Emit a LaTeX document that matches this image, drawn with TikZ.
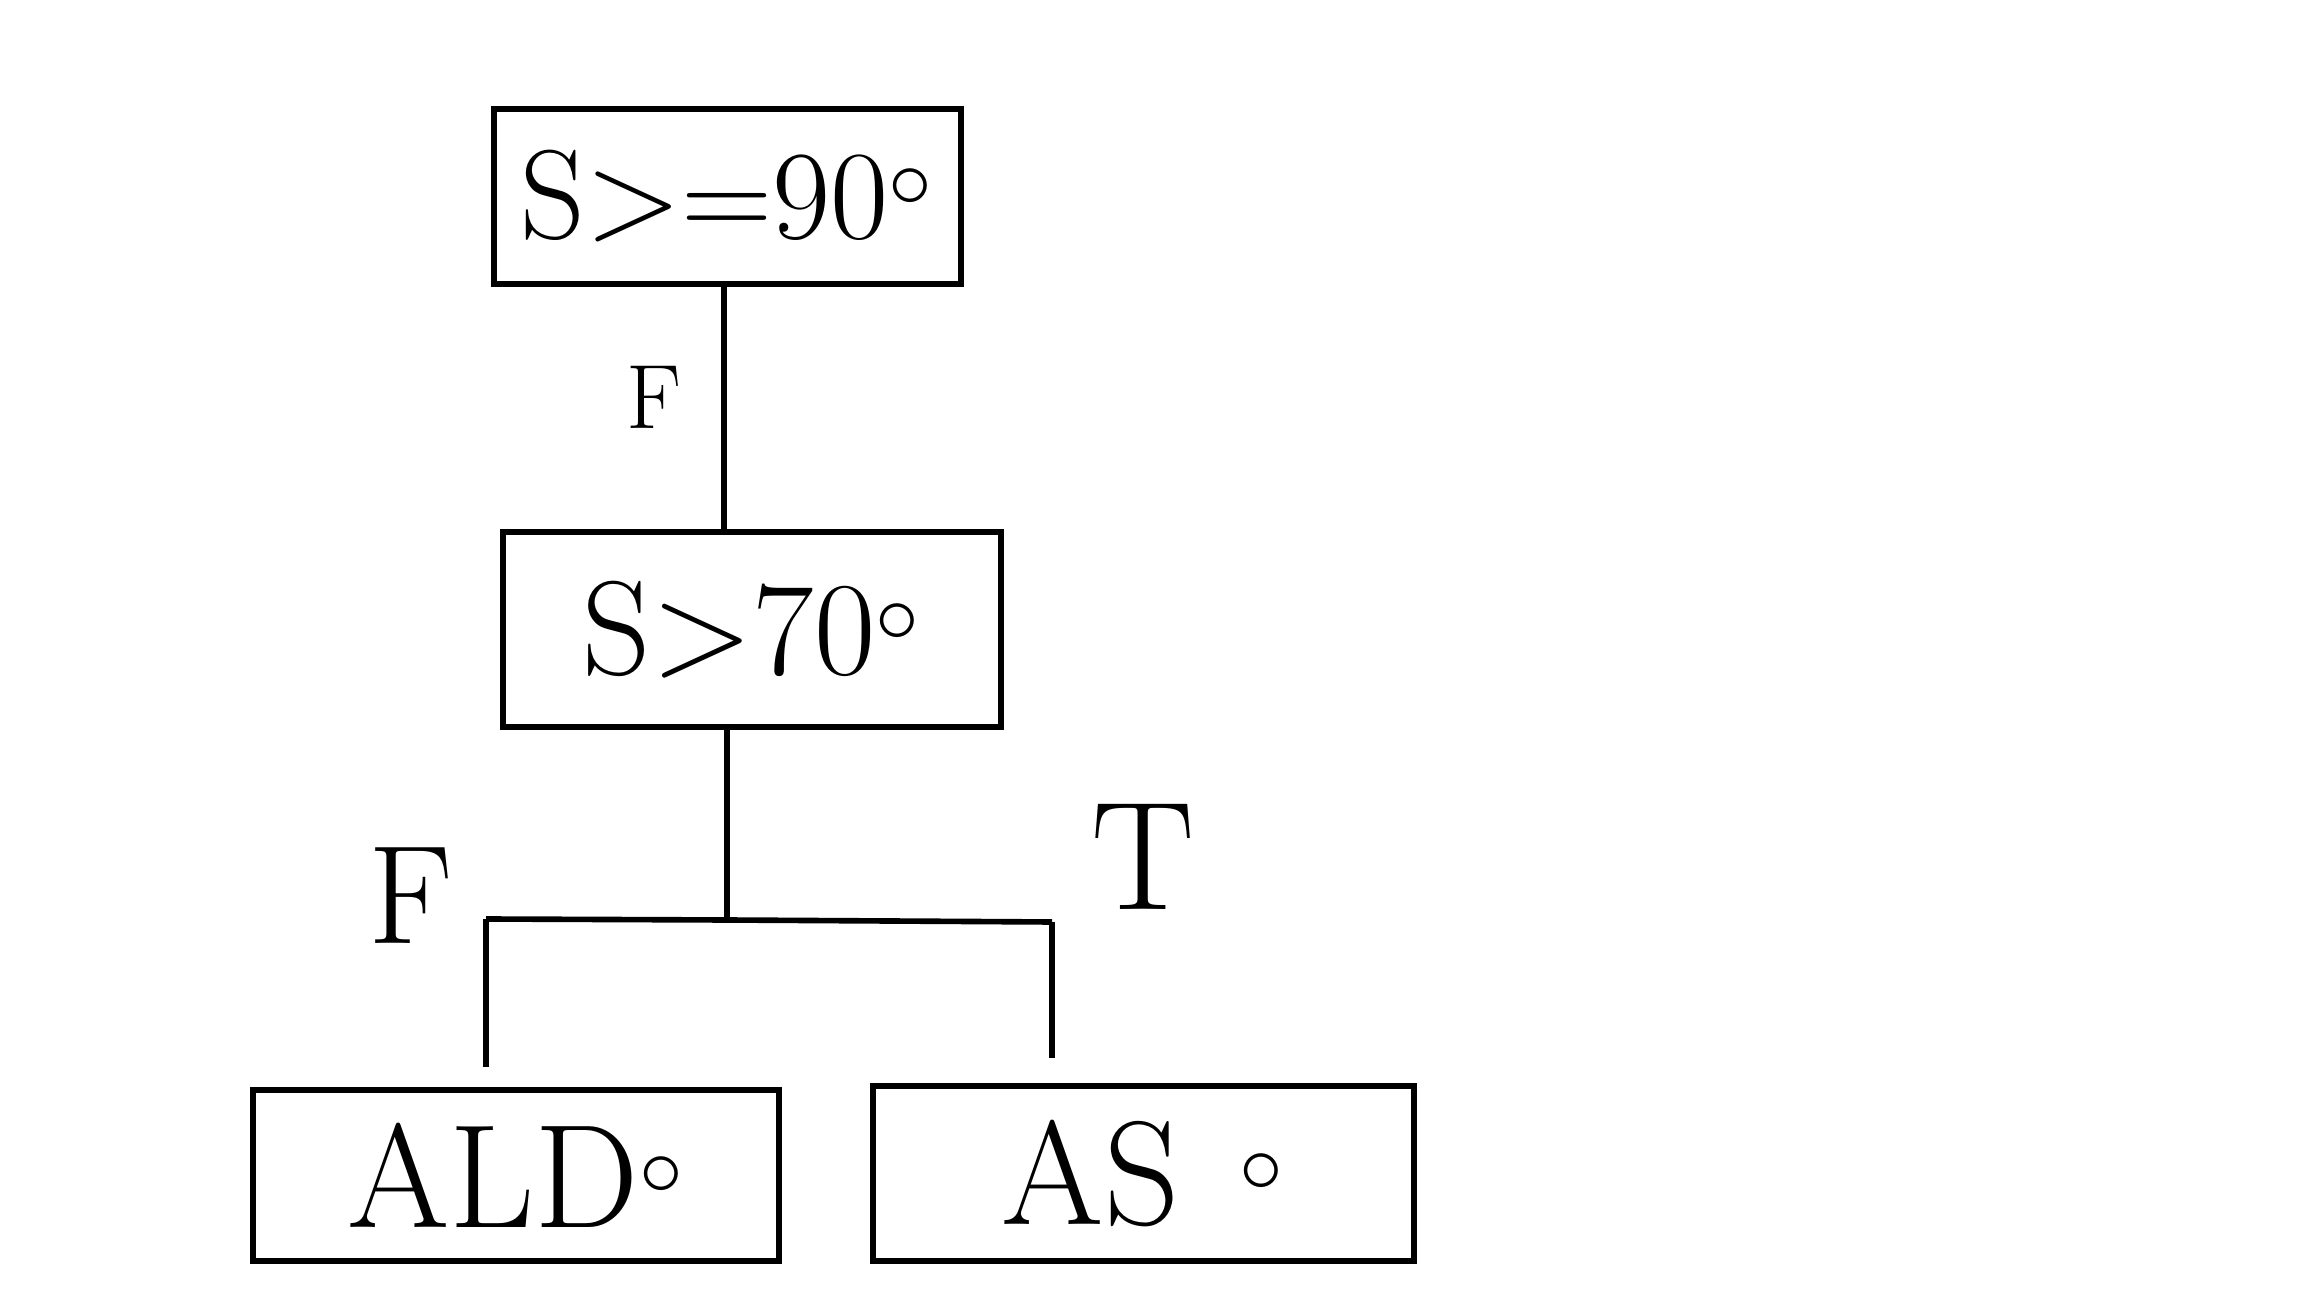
\documentclass[tikz,border=0pt]{standalone}
\usepackage{tikz}
\usetikzlibrary{positioning}

\begin{document}
\begin{tikzpicture}[
    box/.style={draw, line width=1.6pt, inner sep=0pt},
    edge/.style={line width=1.6pt},
    lbl/.style={font=\fontsize{34}{40}\selectfont}
  ]
    \useasboundingbox (0,0) rectangle (23.04,12.96);

    \node [box, minimum width=4.67cm, minimum height=1.75cm, font=\fontsize{36}{42}\selectfont] (s90) at (7.275,10.995) {S>=90$^{\circ}$};
    \node [box, minimum width=4.98cm, minimum height=1.95cm, font=\fontsize{38}{44}\selectfont] (s70) at (7.52,6.665) {S>70$^{\circ}$};
    \node [box, minimum width=5.26cm, minimum height=1.71cm, font=\fontsize{42}{48}\selectfont] (ald) at (5.16,1.205) {ALD$^{\circ}$};
    \node [box, minimum width=5.41cm, minimum height=1.75cm, font=\fontsize{42}{48}\selectfont] (as) at (11.435,1.225) {AS\hspace{0.6cm}$^{\circ}$};

    % branch points
    \coordinate (j) at (7.27,3.76);
    \coordinate (jl) at (4.86,3.77);
    \coordinate (jr) at (10.52,3.74);

    \draw [edge] (s90.south -| 7.24,0) -- (s70.north -| 7.24,0);
    \draw [edge] (s70.south -| j) -- (j);
    \draw [edge] (jl) -- (j) -- (jr);
    \draw [edge, shorten >=0.2cm] (jl) -- (jl |- ald.north);
    \draw [edge, shorten >=0.25cm] (jr) -- (jr |- as.north);

    \node [lbl, font=\fontsize{26}{30}\selectfont] (f1) at (6.54,8.99) {F};
    \node [lbl, font=\fontsize{40}{46}\selectfont] (f2) at (4.11,4.0) {F};
    \node [lbl, font=\fontsize{44}{50}\selectfont] (t) at (11.43,4.39) {T};
\end{tikzpicture}
\end{document}
